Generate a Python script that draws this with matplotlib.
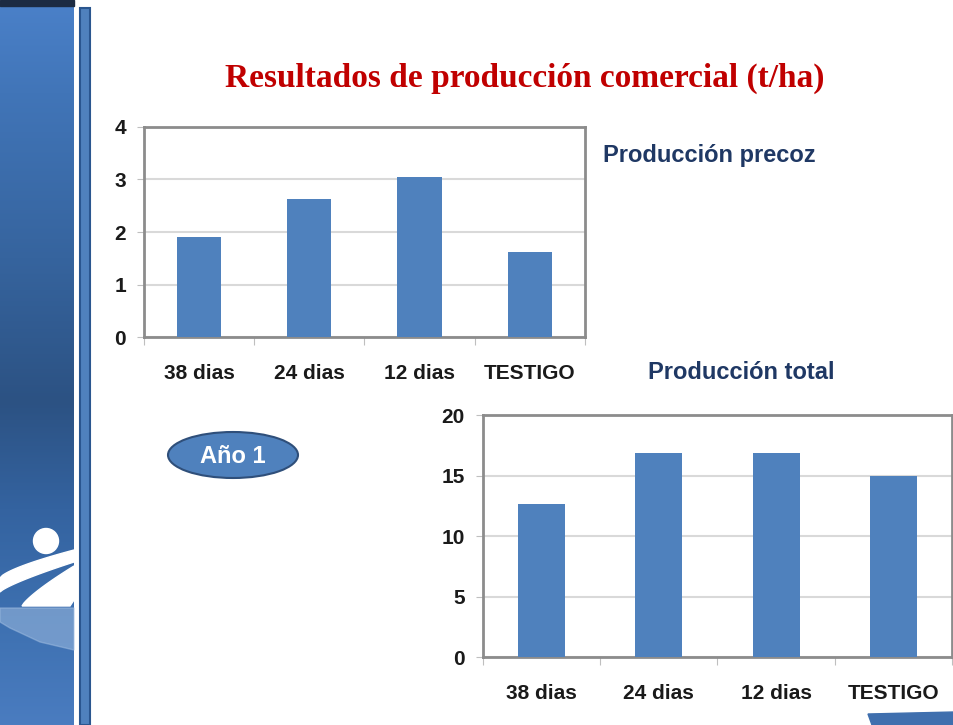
import numpy as np
import matplotlib.pyplot as plt
from matplotlib.patches import Ellipse, Rectangle, Polygon, Circle
from matplotlib.colors import LinearSegmentedColormap

categorias = ['38 dias', '24 dias', '12 dias', 'TESTIGO']
precoz = [1.90, 2.62, 3.05, 1.61]
total = [12.7, 16.9, 16.9, 15.0]

azul_barra = '#4F81BD'
gris_rejilla = '#D9D9D9'
gris_marco = '#8C8C8C'
texto_eje = '#1A1A1A'

plt.rcParams['font.family'] = ['Liberation Sans', 'DejaVu Sans']

fig = plt.figure(figsize=(9.54, 7.25), dpi=100)
fig.patch.set_facecolor('white')

# fondo decorativo de la diapositiva (coordenadas en pixeles)
bg = fig.add_axes([0, 0, 1, 1], zorder=0)
bg.set_xlim(0, 954)
bg.set_ylim(725, 0)
bg.axis('off')

cmap = LinearSegmentedColormap.from_list('franja', [
    (0.0, '#4A80C8'), (0.12, '#4175B8'), (0.35, '#36649E'),
    (0.55, '#2C5283'), (0.7, '#3463A0'), (0.85, '#3D70B0'), (1.0, '#4A7CC0')])
grad = np.linspace(0, 1, 256).reshape(-1, 1)
bg.imshow(grad, cmap=cmap, extent=[0, 74, 725, 6], aspect='auto', zorder=1)
bg.add_patch(Rectangle((0, 0), 74, 6, color='#1C2B42', zorder=2))
bg.add_patch(Rectangle((80, 8), 10, 717, facecolor='#4F81BD', edgecolor='#2A568F', lw=1.5, zorder=2))

# logotipo blanco
t = np.linspace(0, 1, 30)
sup = np.column_stack([74 * t, 578 - 28 * t ** 0.7])
inf = np.column_stack([74 * t[::-1], 592 - 30 * t[::-1] ** 0.8])
bg.add_patch(Polygon(np.vstack([sup, inf]), color='white', zorder=3))
cuña = np.column_stack([22 + 52 * t, 606 - 40 * t ** 0.8])
bg.add_patch(Polygon(np.vstack([cuña, [(74, 600), (70, 606)]]), color='white', zorder=3))
bg.add_patch(Circle((46, 541), 12.5, color='white', zorder=3))
bg.add_patch(Polygon([(0, 608), (74, 608), (74, 650), (40, 642), (10, 628), (0, 622)],
                     color='#9DBBE0', alpha=0.55, zorder=3))
bg.add_patch(Polygon([(868, 714), (954, 712), (954, 725), (872, 725)], color='#3F6FAE', zorder=3))

fig.text(0.55, 0.892, 'Resultados de producción comercial (t/ha)', ha='center', va='center',
         fontsize=24, fontweight='bold', color='#C00000', family=['Liberation Serif', 'DejaVu Serif'])
fig.text(0.632, 0.786, 'Producción precoz', ha='left', va='center',
         fontsize=17, fontweight='bold', color='#1F3864')
fig.text(0.679, 0.486, 'Producción total', ha='left', va='center',
         fontsize=17, fontweight='bold', color='#1F3864')

bg.add_patch(Ellipse((233, 455), 130, 46, facecolor=azul_barra, edgecolor='#2F4F7A', lw=1.5, zorder=3))
bg.text(233, 456, 'Año 1', ha='center', va='center', fontsize=17, fontweight='bold',
        color='white', zorder=4)


def grafico(rect, valores, ymax, paso):
    ax = fig.add_axes(rect, zorder=2)
    x = np.arange(len(categorias))
    ax.bar(x, valores, width=0.4, color=azul_barra, zorder=3)
    ax.set_xlim(-0.5, len(categorias) - 0.5)
    ax.set_ylim(0, ymax)
    ax.set_yticks(np.arange(0, ymax + paso, paso))
    ax.set_xticks(np.arange(-0.5, len(categorias), 1.0))
    ax.set_xticklabels([])
    ax.set_xticks(x, minor=True)
    ax.set_xticklabels(categorias, minor=True)
    ax.tick_params(axis='x', which='minor', length=0, pad=19, labelsize=15, labelcolor=texto_eje)
    ax.tick_params(axis='x', which='major', length=6, color='#BFBFBF')
    ax.tick_params(axis='y', length=5, color='#BFBFBF', pad=8, labelsize=15, labelcolor=texto_eje)
    for lab in ax.get_xticklabels(minor=True) + ax.get_yticklabels():
        lab.set_fontweight('bold')
    ax.grid(axis='y', color=gris_rejilla, lw=1.5, zorder=0)
    for s in ax.spines.values():
        s.set_color(gris_marco)
        s.set_linewidth(2)
    return ax


grafico([0.151, 0.535, 0.462, 0.290], precoz, 4, 1)
grafico([0.506, 0.0934, 0.492, 0.334], total, 20, 5)

fig.savefig('out.png', dpi=100)
